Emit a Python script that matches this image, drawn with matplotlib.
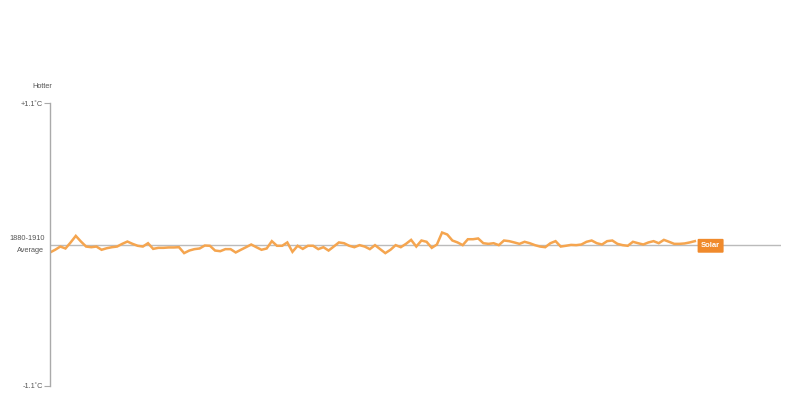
import matplotlib.pyplot as plt

plt.rcParams['font.family'] = ['Liberation Sans', 'DejaVu Sans']

# Solar forcing temperature contribution relative to 1880-1910 average, in deg C
start_year = 1880
solar = [
    -0.062, -0.041, -0.016, -0.031, 0.016, 0.067, 0.023, -0.016, -0.021, -0.016,
    -0.041, -0.029, -0.021, -0.016, 0.005, 0.023, 0.005, -0.010, -0.016, 0.010,
    -0.034, -0.026,
    -0.026, -0.023, -0.023, -0.021, -0.067, -0.047, -0.036, -0.031, -0.008, -0.010,
    -0.047, -0.052, -0.036, -0.036, -0.062, -0.041, -0.021, 0.000,
    -0.021, -0.041, -0.031, 0.026, -0.010, -0.010, 0.016, -0.057, -0.010, -0.034,
    -0.010, -0.010, -0.036, -0.021, -0.047, -0.016, 0.016, 0.010, -0.010, -0.021,
    -0.005, -0.016, -0.036, -0.005, -0.036, -0.067, -0.041, -0.005, -0.021, 0.005,
    0.036, -0.016, 0.031, 0.021, -0.026, 0.000, 0.093, 0.078, 0.031, 0.016,
    -0.005, 0.041, 0.041, 0.047, 0.010, 0.005,
    0.010, -0.005, 0.031, 0.026, 0.016, 0.005, 0.021, 0.010, -0.005, -0.016,
    -0.021, 0.010, 0.026, -0.016, -0.010, -0.003, -0.005, 0.000, 0.021, 0.031,
    0.010, 0.000, 0.026, 0.031, 0.005, -0.005, -0.010, 0.021, 0.010, 0.000,
    0.016, 0.026, 0.010, 0.036, 0.021, 0.005, 0.005, 0.008, 0.016, 0.026,
]
years = [start_year + i for i in range(len(solar))]

y_ticks = [-1.1, 1.1]
y_tick_labels = ['-1.1˚C', '+1.1˚C']
series_label = 'Solar'

fig = plt.figure(figsize=(8, 4), dpi=100)
ax = fig.add_axes([0.0625, 0.035, 0.91375, 0.7075])

# baseline (1880-1910 average)
ax.axhline(0, color='#bbbbbb', lw=1, zorder=1)
ax.plot(years, solar, color='#f5a54f', lw=1.8, zorder=2, solid_joinstyle='miter')

ax.set_xlim(1880, 2021.7)
ax.set_ylim(-1.1, 1.1)

for s in ['top', 'right', 'bottom']:
    ax.spines[s].set_visible(False)
ax.spines['left'].set_color('#aaaaaa')
ax.spines['left'].set_linewidth(1)
ax.set_xticks([])
ax.set_yticks(y_ticks)
ax.set_yticklabels(y_tick_labels)
ax.tick_params(axis='y', length=4, width=0.8, color='#aaaaaa',
               labelsize=5.3, labelcolor='#555555', pad=1)

ax.annotate('1880-1910', xy=(0, 0), xycoords=('axes fraction', 'data'),
            xytext=(-4, 2), textcoords='offset points',
            ha='right', va='bottom', fontsize=5.3, color='#555555')
ax.annotate('Average', xy=(0, 0), xycoords=('axes fraction', 'data'),
            xytext=(-4, -1.5), textcoords='offset points',
            ha='right', va='top', fontsize=5.3, color='#555555')
ax.text(-0.011, 1.06, 'Hotter', transform=ax.transAxes,
        ha='center', va='center', fontsize=5.3, color='#555555')

# series label box at end of the line
ax.text(years[-1] + 1.2, -0.01, series_label, ha='left', va='center',
        fontsize=5.5, fontweight='bold', color='white',
        bbox=dict(boxstyle='round,pad=0.45,rounding_size=0.15',
                  fc='#f08a2c', ec='none'))

fig.savefig('out.png', dpi=100)
